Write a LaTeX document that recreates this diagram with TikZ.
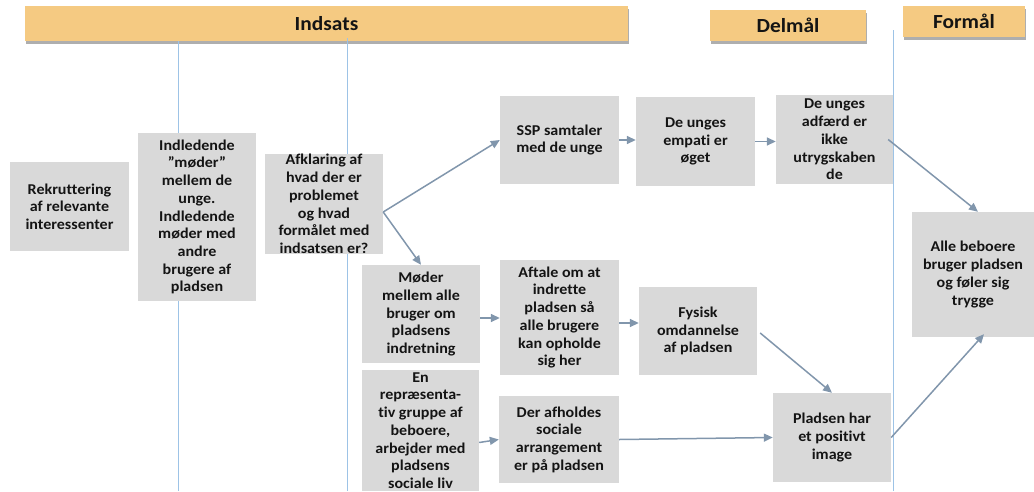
\documentclass[tikz,border=0pt]{standalone}
\usepackage{fontspec}
\setmainfont{Carlito}[FakeStretch=1.07, RawFeature={-liga;-clig;-dlig;-calt}]
\usetikzlibrary{arrows.meta,shadows}
\definecolor{hdr}{HTML}{F5CA82}
\definecolor{boxgray}{HTML}{D9D9D9}
\definecolor{arr}{HTML}{8196AC}
\definecolor{vline}{HTML}{9DC3E6}
\definecolor{txt}{HTML}{141414}
\tikzset{
  box/.style={fill=boxgray, draw=none, inner sep=0pt, align=center, text=txt,
    font=\fontsize{15}{17.7}\selectfont\bfseries},
  hbox/.style={fill=hdr, draw=none, inner sep=0pt, text=txt,
    font=\fontsize{20}{22}\selectfont\bfseries,
    drop shadow={shadow xshift=0.5pt, shadow yshift=-2.5pt, opacity=0.45, fill=black!70}},
  conn/.style={draw=arr, line width=1.5pt, -{Triangle[length=9pt,width=8pt]}},
  vl/.style={draw=vline, line width=1pt}
}
\begin{document}
\begin{tikzpicture}[x=1pt,y=-1pt]
\useasboundingbox (0,0) rectangle (1034,491);
% headers
\node[hbox, minimum width=603pt, minimum height=35pt] (indsats) at (326.5,23.5) {Indsats};
\node[hbox, minimum width=156pt, minimum height=31pt] (delmaal) at (788,25.5) {Delmål};
\node[hbox, minimum width=122pt, minimum height=31pt] (formaal) at (964,21.5) {Formål};
% vertical lines
\coordinate (v1t) at (178,41);  \coordinate (v1b) at (178,491);
\coordinate (v2t) at (347,38);  \coordinate (v2b) at (347,491);
\coordinate (v3t) at (893,30);  \coordinate (v3b) at (893,491);
\draw[vl] (v1t) -- (v1b);
\draw[vl] (v2t) -- (v2b);
\draw[vl] (v3t) -- (v3b);
% boxes
\node[box, minimum width=119pt, minimum height=89pt] (rek) at (69.5,206.5) {Rekruttering\\af relevante\\interessenter};
\node[box, minimum width=118pt, minimum height=168pt] (ind) at (197,217) {Indledende\\”møder”\\mellem de\\unge.\\Indledende\\møder med\\andre\\brugere af\\pladsen};
\node[box, minimum width=118pt, minimum height=100pt] (afk) at (324,204) {Afklaring af\\hvad der er\\problemet\\og hvad\\formålet med\\indsatsen er?};
\node[box, minimum width=119pt, minimum height=88pt] (ssp) at (559.5,140) {SSP samtaler\\med de unge};
\node[box, minimum width=119pt, minimum height=89pt] (emp) at (695.5,141.5) {De unges\\empati er\\øget};
\node[box, minimum width=117pt, minimum height=89pt] (adf) at (834.5,139.5) {De unges\\adfærd er\\ikke\\utrygskaben\\de};
\node[box, minimum width=122pt, minimum height=125pt] (alle) at (973,274.5) {Alle beboere\\bruger pladsen\\og føler sig\\trygge};
\node[box, minimum width=118pt, minimum height=98pt] (mod) at (421,314) {Møder\\mellem alle\\bruger om\\pladsens\\indretning};
\node[box, minimum width=119pt, minimum height=115pt] (aft) at (559.5,317.5) {Aftale om at\\indrette\\pladsen så\\alle brugere\\kan opholde\\sig her};
\node[box, minimum width=118pt, minimum height=88pt] (fys) at (698,331) {Fysisk\\omdannelse\\af pladsen};
\node[box, minimum width=117pt, minimum height=121pt] (rep) at (420.5,430.5) {En\\repræsenta-\\tiv gruppe af\\beboere,\\arbejder med\\pladsens\\sociale liv};
\node[box, minimum width=120pt, minimum height=87pt] (der) at (559,439.5) {Der afholdes\\sociale\\arrangement\\er på pladsen};
\node[box, minimum width=118pt, minimum height=89pt] (pla) at (832,437.5) {Pladsen har\\et positivt\\image};
% connectors
\draw[conn] ([yshift=-8pt]afk.east) -- (ssp.west);
\draw[conn] ([yshift=-8pt]afk.east) -- (mod.north);
\draw[conn] (ssp.east) -- (ssp.east -| emp.west);
\draw[conn] (emp.east) -- (emp.east -| adf.west);
\draw[conn] ([xshift=-5pt]adf.east) -- ([xshift=5pt]alle.north);
\draw[conn] ([yshift=-4pt]mod.east) -- ([yshift=-4pt]mod.east -| aft.west);
\draw[conn] ([yshift=-5.5pt]aft.east) -- ([yshift=-5.5pt]aft.east -| fys.west);
\draw[conn] ([xshift=3pt,yshift=-2pt]fys.east) -- (pla.north);
\draw[conn] ([yshift=-12pt]rep.east) -- (der.west);
\draw[conn] (der.east) -- (pla.west);
\draw[conn] (pla.east) -- ([xshift=11pt,yshift=3pt]alle.south);
\end{tikzpicture}
\end{document}
